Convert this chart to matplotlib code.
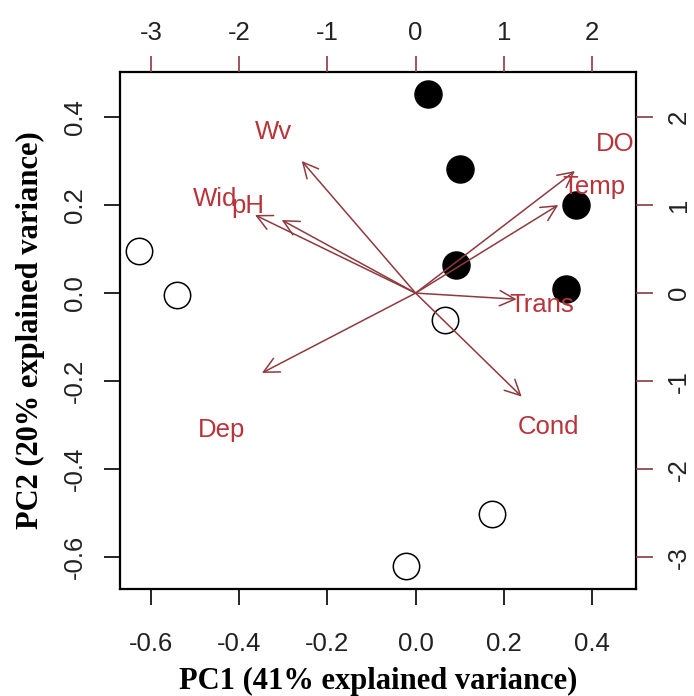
import matplotlib
matplotlib.use("Agg")
import matplotlib.pyplot as plt
from matplotlib.transforms import offset_copy

# ---- data (PC scores, primary axes) ----
filled_pc1 = [0.028, 0.101, 0.364, 0.091, 0.341]
filled_pc2 = [0.452, 0.281, 0.200, 0.064, 0.009]
open_pc1 = [-0.627, -0.542, 0.067, 0.173, -0.022]
open_pc2 = [0.096, -0.004, -0.060, -0.502, -0.620]

# ---- loadings (secondary axes): arrow tips and label positions ----
var_names = ["Wv", "Wid", "pH", "DO", "Temp", "Trans", "Cond", "Dep"]
arrow_pc1 = [-1.291, -1.821, -1.518, 1.807, 1.618, 1.146, 1.203, -1.742]
arrow_pc2 = [1.500, 0.887, 0.830, 1.386, 1.000, -0.070, -1.176, -0.907]
label_pc1 = [-1.614, -2.276, -1.898, 2.259, 2.023, 1.433, 1.504, -2.195]
label_pc2 = [1.875, 1.109, 1.038, 1.733, 1.250, -0.088, -1.470, -1.504]

x_ticks = [-0.6, -0.4, -0.2, 0.0, 0.2, 0.4]
y_ticks = [-0.6, -0.4, -0.2, 0.0, 0.2, 0.4]
top_ticks = [-3, -2, -1, 0, 1, 2]
right_ticks = [-3, -2, -1, 0, 1, 2]

xlim = (-0.6714, 0.4998)
ylim = (-0.6727, 0.5028)
scale2 = 5.0

arrow_col = "#8E3A3E"
text_col = "#B8343A"
tick_font = "Liberation Sans"
fs = 18.5

fig = plt.figure(figsize=(6.94, 6.96), dpi=100)
pos = [0.1722, 0.1533, 0.7442, 0.7437]
ax = fig.add_axes(pos)
ax.set_xlim(*xlim)
ax.set_ylim(*ylim)

ax.plot(filled_pc1, filled_pc2, "o", ms=19.5, mfc="black", mec="black", mew=1, zorder=3)
ax.plot(open_pc1, open_pc2, "o", ms=19, mfc="white", mec="black", mew=1.1, zorder=3)

ax.set_xticks(x_ticks)
ax.set_xticklabels([f"{v:.1f}" for v in x_ticks], fontfamily=tick_font, fontsize=fs, color="#222222")
ax.set_yticks(y_ticks)
ax.set_yticklabels([f"{v:.1f}" for v in y_ticks], fontfamily=tick_font, fontsize=fs, color="#222222",
                   rotation=90, va="center")
ax.tick_params(axis="x", length=11.5, width=1.2, pad=19, direction="out")
ax.tick_params(axis="y", length=11.5, width=1.2, pad=12, direction="out")
for s in ax.spines.values():
    s.set_linewidth(1.6)

ax.set_xlabel("PC1 (41% explained variance)", fontfamily="Liberation Serif", fontweight="bold",
              fontsize=22, labelpad=8)
ax.set_ylabel("PC2 (20% explained variance)", fontfamily="Liberation Serif", fontweight="bold",
              fontsize=22, labelpad=13)

# ---- secondary axes for loadings ----
ax2 = fig.add_axes(pos, frameon=False)
ax2.set_xlim(xlim[0] * scale2, xlim[1] * scale2)
ax2.set_ylim(ylim[0] * scale2, ylim[1] * scale2)
ax2.xaxis.tick_top()
ax2.yaxis.tick_right()
ax2.set_xticks(top_ticks)
ax2.set_xticklabels([str(v) for v in top_ticks], fontfamily=tick_font, fontsize=fs, color="#222222")
ax2.set_yticks(right_ticks)
ax2.set_yticklabels([str(v) for v in right_ticks], fontfamily=tick_font, fontsize=fs, color="#222222",
                    rotation=90, va="center")
ax2.tick_params(axis="x", length=11.5, width=1.2, pad=8, colors=arrow_col, labelcolor="#222222")
ax2.tick_params(axis="y", length=12, width=1.2, pad=10, colors=arrow_col, labelcolor="#222222")

txt_tr = offset_copy(ax2.transData, fig=fig, x=0, y=-4, units="dots")
for name, ax_, ay_, lx, ly in zip(var_names, arrow_pc1, arrow_pc2, label_pc1, label_pc2):
    ax2.annotate("", xy=(ax_, ay_), xytext=(0, 0),
                 arrowprops=dict(arrowstyle="->,head_length=1.1,head_width=0.55",
                                 color=arrow_col, lw=1.1, shrinkA=0, shrinkB=0))
    ax2.text(lx, ly, name, color=text_col, fontsize=fs, fontfamily=tick_font,
             ha="center", va="center", zorder=4, transform=txt_tr)

fig.savefig("out.png", dpi=100)
